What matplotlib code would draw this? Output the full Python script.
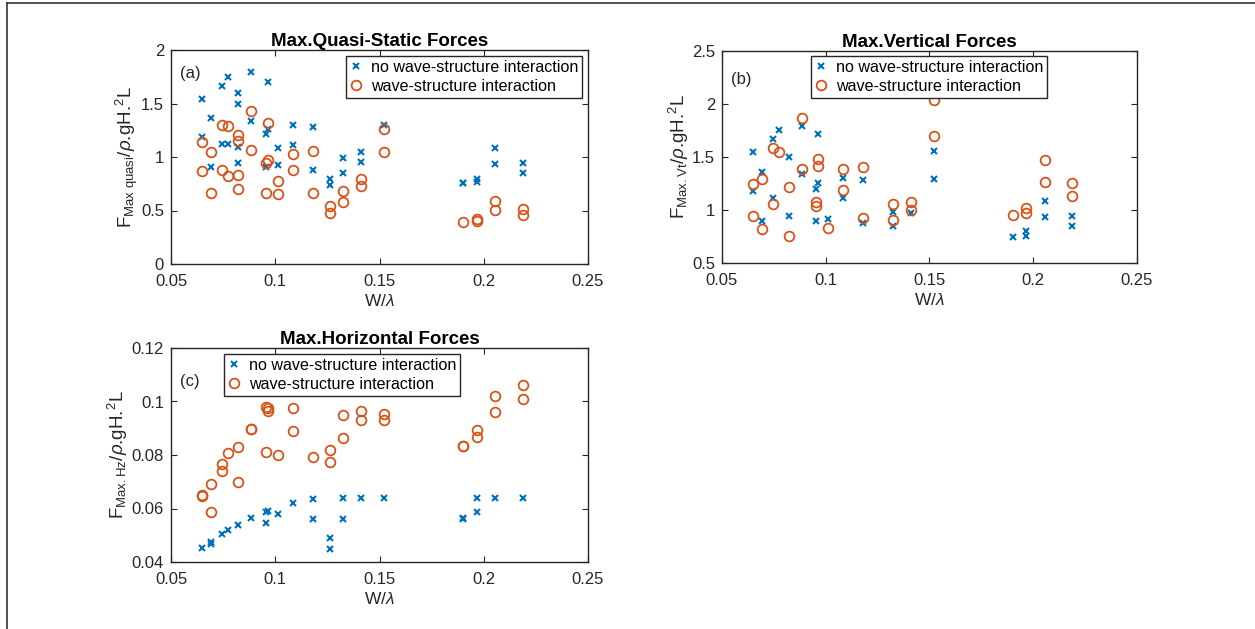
import matplotlib
matplotlib.use("Agg")
import matplotlib.pyplot as plt
from matplotlib.lines import Line2D

plt.rcParams['font.family'] = ['Liberation Sans', 'DejaVu Sans']
plt.rcParams['mathtext.fontset'] = 'custom'
plt.rcParams['mathtext.rm'] = 'Liberation Sans'
plt.rcParams['mathtext.it'] = 'Liberation Sans:italic'
plt.rcParams['mathtext.bf'] = 'Liberation Sans:bold'

# ---------------- data ----------------
a_no_x = [0.0648, 0.0648, 0.0692, 0.0692, 0.0747, 0.0747, 0.0773, 0.0773, 0.0821, 0.0821, 0.0821, 0.0821,
          0.0885, 0.0885, 0.0965, 0.0965, 0.0955, 0.0955, 0.1013, 0.1013, 0.1085, 0.1085, 0.1179, 0.1179,
          0.1264, 0.1264, 0.1325, 0.1325, 0.1410, 0.1410, 0.1521, 0.1902, 0.1902, 0.1966, 0.1966,
          0.2056, 0.2056, 0.2186, 0.2186]
a_no_y = [1.542, 1.184, 1.361, 0.903, 1.664, 1.121, 1.748, 1.118, 1.595, 1.492, 1.097, 0.941,
          1.791, 1.340, 1.704, 1.258, 1.212, 0.910, 1.087, 0.925, 1.302, 1.115, 1.283, 0.879,
          0.794, 0.735, 0.991, 0.853, 1.044, 0.956, 1.299, 0.760, 0.755, 0.797, 0.770,
          1.087, 0.935, 0.947, 0.853]
a_wsi_x = [0.0648, 0.0648, 0.0692, 0.0692, 0.0747, 0.0747, 0.0773, 0.0773, 0.0821, 0.0821, 0.0821, 0.0821,
           0.0885, 0.0885, 0.0965, 0.0965, 0.0955, 0.0955, 0.1013, 0.1013, 0.1085, 0.1085, 0.1179, 0.1179,
           0.1264, 0.1264, 0.1325, 0.1325, 0.1410, 0.1410, 0.1521, 0.1521, 0.1902, 0.1966, 0.1966,
           0.2056, 0.2056, 0.2186, 0.2186]
a_wsi_y = [1.137, 0.866, 1.050, 0.660, 1.302, 0.879, 1.293, 0.826, 1.209, 1.146, 0.832, 0.701,
           1.433, 1.065, 1.321, 0.972, 0.947, 0.663, 0.779, 0.654, 1.028, 0.882, 1.053, 0.663,
           0.542, 0.480, 0.682, 0.583, 0.791, 0.732, 1.258, 1.047, 0.396, 0.424, 0.405,
           0.589, 0.505, 0.511, 0.458]

b_no_x = [0.0648, 0.0648, 0.0692, 0.0692, 0.0747, 0.0747, 0.0773, 0.0821, 0.0821, 0.0885, 0.0885,
          0.0965, 0.0965, 0.0955, 0.0955, 0.1013, 0.1085, 0.1085, 0.1179, 0.1179, 0.1325, 0.1325,
          0.1410, 0.1521, 0.1521, 0.1902, 0.1966, 0.1966, 0.2056, 0.2056, 0.2186, 0.2186]
b_no_y = [1.544, 1.179, 1.361, 0.899, 1.667, 1.116, 1.755, 1.497, 0.943, 1.792, 1.340,
          1.714, 1.252, 1.201, 0.899, 0.918, 1.305, 1.116, 1.283, 0.874, 0.984, 0.849,
          0.969, 1.557, 1.292, 0.748, 0.802, 0.755, 1.082, 0.934, 0.943, 0.852]
b_wsi_x = [0.0648, 0.0648, 0.0692, 0.0692, 0.0747, 0.0747, 0.0773, 0.0821, 0.0821, 0.0885, 0.0885,
           0.0965, 0.0965, 0.0955, 0.0955, 0.1013, 0.1085, 0.1085, 0.1179, 0.1179, 0.1325, 0.1325,
           0.1410, 0.1410, 0.1521, 0.1521, 0.1902, 0.1966, 0.1966, 0.2056, 0.2056, 0.2186, 0.2186]
b_wsi_y = [1.242, 0.946, 1.290, 0.824, 1.582, 1.059, 1.544, 1.220, 0.758, 1.868, 1.387,
           1.478, 1.418, 1.075, 1.041, 0.833, 1.384, 1.186, 1.406, 0.921, 1.059, 0.903,
           1.078, 0.997, 2.038, 1.698, 0.953, 1.022, 0.969, 1.472, 1.267, 1.252, 1.132]

c_no_x = [0.0648, 0.0692, 0.0692, 0.0747, 0.0773, 0.0821, 0.0885, 0.0955, 0.0965, 0.0955, 0.1013,
          0.1085, 0.1179, 0.1179, 0.1264, 0.1264, 0.1325, 0.1325, 0.1410, 0.1521, 0.1902, 0.1902,
          0.1966, 0.1966, 0.2056, 0.2186]
c_no_y = [0.0454, 0.0469, 0.0475, 0.0506, 0.0519, 0.0538, 0.0565, 0.0588, 0.0590, 0.0546, 0.0578,
          0.0619, 0.0634, 0.0559, 0.0491, 0.0448, 0.0640, 0.0559, 0.0640, 0.0640, 0.0565, 0.0559,
          0.0638, 0.0586, 0.0640, 0.0640]
c_wsi_x = [0.0648, 0.0648, 0.0692, 0.0692, 0.0747, 0.0747, 0.0773, 0.0821, 0.0821, 0.0885, 0.0885,
           0.0955, 0.0965, 0.0965, 0.0955, 0.1013, 0.1085, 0.1085, 0.1179, 0.1264, 0.1264, 0.1325,
           0.1325, 0.1410, 0.1410, 0.1521, 0.1521, 0.1902, 0.1902, 0.1966, 0.1966, 0.2056, 0.2056,
           0.2186, 0.2186]
c_wsi_y = [0.0652, 0.0648, 0.0691, 0.0588, 0.0766, 0.0741, 0.0809, 0.0829, 0.0700, 0.0899, 0.0897,
           0.0981, 0.0974, 0.0965, 0.0810, 0.0800, 0.0975, 0.0891, 0.0792, 0.0818, 0.0774, 0.0948,
           0.0865, 0.0966, 0.0929, 0.0953, 0.0931, 0.0834, 0.0832, 0.0894, 0.0869, 0.1021, 0.0961,
           0.1062, 0.1009]

x_ticks = [0.05, 0.1, 0.15, 0.2, 0.25]
x_ticklabels = ['0.05', '0.1', '0.15', '0.2', '0.25']
a_yticks = [0, 0.5, 1, 1.5, 2]
a_yticklabels = ['0', '0.5', '1', '1.5', '2']
b_yticks = [0.5, 1, 1.5, 2, 2.5]
b_yticklabels = ['0.5', '1', '1.5', '2', '2.5']
c_yticks = [0.04, 0.06, 0.08, 0.1, 0.12]
c_yticklabels = ['0.04', '0.06', '0.08', '0.1', '0.12']

titles = ['Max.Quasi-Static Forces', 'Max.Vertical Forces', 'Max.Horizontal Forces']
panel_tags = ['(a)', '(b)', '(c)']
ylabels = [r'F$_{\mathrm{Max\ quasi}}$/$\rho$.gH.$^{2}$L',
           r'F$_{\mathrm{Max.Vt}}$/$\rho$.gH.$^{2}$L',
           r'F$_{\mathrm{Max.Hz}}$/$\rho$.gH.$^{2}$L']
xlabel = r'W/$\lambda$'
legend_labels = ['no wave-structure interaction', 'wave-structure interaction']

# ---------------- style ----------------
BLUE = '#0072BD'
ORANGE = '#D95319'
AXC = '#262626'

W, H = 1255, 629
fig = plt.figure(figsize=(W / 100, H / 100), dpi=100)

# border lines of the original frame
fig.add_artist(Line2D([7.3 / W, 7.3 / W], [0, 1 - 3.3 / H], transform=fig.transFigure, color='#333333', lw=1.2))
fig.add_artist(Line2D([7.3 / W, 1], [1 - 3.3 / H, 1 - 3.3 / H], transform=fig.transFigure, color='#333333', lw=1.2))

def px_axes(l, t, r, b):
    return fig.add_axes([l / W, 1 - b / H, (r - l) / W, (b - t) / H])

ax_a = px_axes(171, 50, 588, 264)
ax_b = px_axes(722, 50.7, 1137, 263)
ax_c = px_axes(171, 348, 588, 562)

panels = [
    (ax_a, a_no_x, a_no_y, a_wsi_x, a_wsi_y, (0, 2), a_yticks, a_yticklabels, 'upper right', (0.986, 0.972), (0.022, 0.89)),
    (ax_b, b_no_x, b_no_y, b_wsi_x, b_wsi_y, (0.5, 2.5), b_yticks, b_yticklabels, 'upper left', (0.2145, 0.975), (0.022, 0.862)),
    (ax_c, c_no_x, c_no_y, c_wsi_x, c_wsi_y, (0.04, 0.12), c_yticks, c_yticklabels, 'upper left', (0.127, 0.972), (0.022, 0.843)),
]

for i, (ax, nx, ny, wx, wy, ylim, yt, ytl, loc, anchor, tagpos) in enumerate(panels):
    ax.plot(nx, ny, linestyle='none', marker='x', color=BLUE, markersize=5, markeredgewidth=1.5,
            label=legend_labels[0])
    ax.plot(wx, wy, linestyle='none', marker='o', markerfacecolor='none', markeredgecolor=ORANGE,
            markersize=7, markeredgewidth=1.3, label=legend_labels[1])
    ax.set_xlim(0.05, 0.25)
    ax.set_ylim(*ylim)
    ax.set_xticks(x_ticks)
    ax.set_xticklabels(x_ticklabels)
    ax.set_yticks(yt)
    ax.set_yticklabels(ytl)
    ax.tick_params(direction='in', length=4, width=0.8, top=True, right=True, labelsize=12,
                   colors=AXC)
    ax.tick_params(axis='x', pad=7)
    ax.tick_params(axis='y', pad=5)
    for s in ax.spines.values():
        s.set_color(AXC)
        s.set_linewidth(1.0)
    ax.set_title(titles[i], fontsize=13.5, fontweight='bold', pad=3, color='black')
    ax.set_xlabel(xlabel, fontsize=12.5, color=AXC, labelpad=3)
    ax.set_ylabel(ylabels[i], fontsize=13.5, color=AXC, labelpad=1)
    ax.text(tagpos[0], tagpos[1], panel_tags[i], transform=ax.transAxes, fontsize=12,
            color=AXC, ha='left', va='center')
    leg = ax.legend(loc=loc, bbox_to_anchor=anchor, borderaxespad=0, fontsize=11.6,
                    frameon=True, fancybox=False, framealpha=1, edgecolor=AXC,
                    handlelength=0.8, handletextpad=0.5, borderpad=0.25, labelspacing=0.25)
    leg.get_frame().set_linewidth(1.0)

fig.savefig('out.png', dpi=100)
